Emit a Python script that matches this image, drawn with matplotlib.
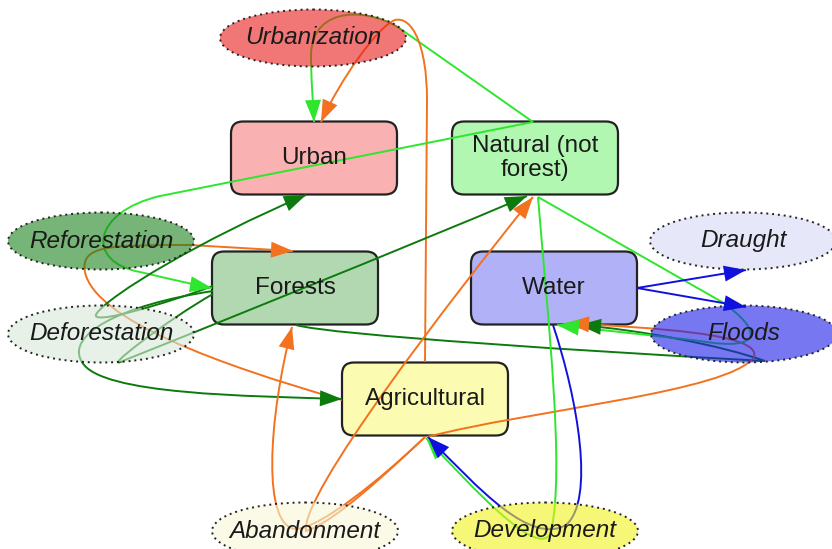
#Land-use change diagram: land classes, change processes and the flows between them

import numpy as np
import matplotlib.pyplot as plt
from matplotlib.path import Path
from matplotlib.patches import FancyBboxPatch, Ellipse, PathPatch, Polygon

plt.rcParams['font.family'] = ['Liberation Sans', 'DejaVu Sans']

#land classes (rounded boxes)
box_names = ['Urban', 'Natural (not\nforest)', 'Forests', 'Water', 'Agricultural']
box_xy = [(314, 158), (535, 158), (295, 288), (554, 288), (425, 399)]
box_colors = ['#f9b1b1', '#b1f7b1', '#b1d8b1', '#b1b1f7', '#fbfbb1']

#processes (dotted ellipses)
proc_names = ['Urbanization', 'Reforestation', 'Deforestation', 'Draught',
              'Floods', 'Abandonment', 'Development']
proc_xy = [(313, 38), (101, 241), (101, 334), (743, 241), (744, 334),
           (305, 531), (545, 531)]
proc_colors = ['#f27777', '#77b477', '#e7f1e7', '#e7e7fa', '#7777f2',
               '#fafae7', '#f6f677']

#colour of an edge = land class it leaves
src_colors = {'agri': '#f2721f', 'forest': '#0d7a0d', 'natural': '#2ee62e',
              'water': '#1111dd'}

#edges: source, then path (M=move, L=line, C=cubic bezier)
edges = [
    ('natural', [('M', (533, 122)), ('L', (402, 30)),
                 ('C', (372, 8), (312, 4), (311, 55)),
                 ('C', (311, 80), (313, 100), (314, 122))]),
    ('agri', [('M', (425, 362)), ('L', (427, 100)),
              ('C', (427, 45), (412, 16), (395, 20)),
              ('C', (378, 26), (340, 80), (321, 122))]),
    ('natural', [('M', (533, 122)), ('L', (160, 196)),
                 ('C', (92, 212), (85, 262), (140, 272)),
                 ('C', (170, 279), (195, 285), (212, 288))]),
    ('agri', [('M', (342, 400)), ('C', (220, 365), (95, 320), (85, 272)),
              ('C', (80, 245), (110, 245), (190, 245)),
              ('L', (293, 251))]),
    ('forest', [('M', (213, 286)), ('C', (170, 302), (85, 328), (97, 313)),
                ('C', (110, 295), (200, 240), (306, 195))]),
    ('forest', [('M', (213, 294)), ('C', (170, 318), (95, 375), (125, 360)),
                ('C', (200, 330), (400, 250), (527, 196))]),
    ('forest', [('M', (213, 291)), ('C', (120, 305), (65, 335), (82, 362)),
                ('C', (100, 395), (250, 396), (342, 399))]),
    ('forest', [('M', (296, 325)), ('C', (330, 335), (600, 352), (765, 361)),
                ('C', (720, 345), (640, 330), (579, 325))]),
    ('agri', [('M', (427, 437)), ('C', (530, 410), (730, 392), (754, 357)),
              ('C', (762, 333), (650, 328), (567, 323))]),
    ('natural', [('M', (538, 197)), ('L', (722, 302)),
                 ('C', (762, 330), (765, 352), (700, 341)),
                 ('C', (650, 335), (600, 330), (557, 325))]),
    ('natural', [('M', (538, 197)), ('C', (548, 320), (565, 470), (551, 532)),
                 ('C', (540, 562), (470, 485), (426, 438))]),
    ('water', [('M', (553, 325)), ('C', (578, 400), (595, 500), (566, 525)),
               ('C', (530, 545), (480, 490), (428, 437))]),
    ('water', [('M', (637, 288)), ('L', (746, 270))]),
    ('water', [('M', (637, 288)), ('L', (746, 307))]),
    ('agri', [('M', (425, 437)), ('C', (380, 480), (320, 528), (296, 529)),
              ('C', (262, 527), (268, 420), (292, 327))]),
    ('agri', [('M', (425, 437)), ('C', (392, 468), (335, 522), (306, 531)),
              ('C', (300, 495), (450, 300), (533, 197))]),
]


def arrow_head(ax, tail, tip, color, length=22, half=8):
    d = np.array(tip, float) - np.array(tail, float)
    d = d / np.linalg.norm(d)
    n = np.array([-d[1], d[0]])
    base = np.array(tip) - length * d
    tri = [tip, base + half * n, base - half * n]
    ax.add_patch(Polygon(tri, closed=True, color=color, lw=0, zorder=5.5))


def faded(hex_color, a):
    #base colour that gives hex_color when drawn with alpha a on white
    c = np.array([int(hex_color[i:i + 2], 16) for i in (1, 3, 5)]) / 255.0
    return tuple(np.clip((c - (1 - a)) / a, 0, 1))


fig = plt.figure(figsize=(8.32, 5.49), dpi=100)
ax = fig.add_axes([0, 0, 1, 1])
ax.set_xlim(0, 832)
ax.set_ylim(549, 0)
ax.axis('off')

#boxes
for name, (cx, cy), col in zip(box_names, box_xy, box_colors):
    w, h = 166, 73
    ax.add_patch(FancyBboxPatch((cx - w / 2 + 12, cy - h / 2 + 12), w - 24, h - 24,
                                boxstyle='round,pad=12', fc=col, ec='#222222',
                                lw=1.6, zorder=1))
    ax.text(cx, cy, name, ha='center', va='center', fontsize=17.5,
            color='#1a1a1a', zorder=6, linespacing=1.15)

#edges
for src, segs in edges:
    verts, codes = [], []
    for s in segs:
        if s[0] == 'M':
            verts.append(s[1]); codes.append(Path.MOVETO)
        elif s[0] == 'L':
            verts.append(s[1]); codes.append(Path.LINETO)
        else:
            verts += [s[1], s[2], s[3]]
            codes += [Path.CURVE4] * 3
    col = src_colors[src]
    ax.add_patch(PathPatch(Path(verts, codes), fc='none', ec=col, lw=1.4,
                           zorder=3))
    arrow_head(ax, verts[-2], verts[-1], col)

#process ellipses (semi-transparent, over the lines)
a = 0.6
for name, (cx, cy), col in zip(proc_names, proc_xy, proc_colors):
    ax.add_patch(Ellipse((cx, cy), 186, 57, fc=faded(col, a), alpha=a,
                         ec='none', zorder=5))
    ax.add_patch(Ellipse((cx, cy), 186, 57, fc='none', ec='#222222',
                         lw=1.4, ls=(0, (1, 2)), zorder=5))
    ax.text(cx, cy, name, ha='center', va='center', fontsize=17.5,
            style='italic', color='#1a1a1a', zorder=6)

plt.savefig('out.png', dpi=100)
